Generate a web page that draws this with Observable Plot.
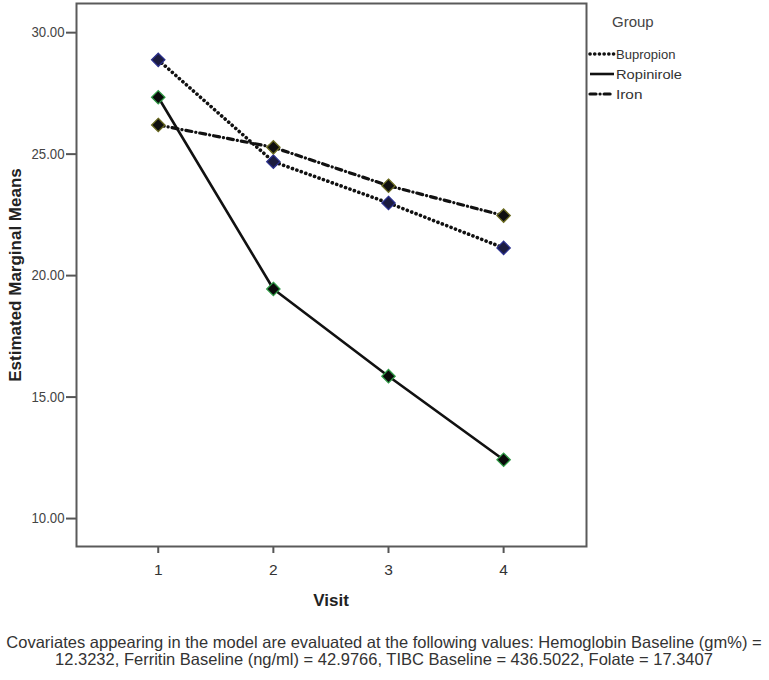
<!DOCTYPE html>
<html>
<head>
<meta charset="utf-8">
<script src="https://cdn.jsdelivr.net/npm/d3@7"></script>
<script src="https://cdn.jsdelivr.net/npm/@observablehq/plot@0.6"></script>
<style>
  body { margin: 0; background: #fff; }
  #chart svg { display: block; }
</style>
</head>
<body>
<div id="chart"></div>
<script>
const visits = [1, 2, 3, 4];
const groups = ["Bupropion", "Ropinirole", "Iron"];
const bupropion = [28.88, 24.69, 22.99, 21.14];
const ropinirole = [27.34, 19.45, 15.86, 12.42];
const iron = [26.20, 25.28, 23.70, 22.47];
const yTicks = [10, 15, 20, 25, 30];
const xTicks = [1, 2, 3, 4];
const xTitle = "Visit";
const yTitle = "Estimated Marginal Means";
const legendTitle = "Group";
const captionLines = [
  "Covariates appearing in the model are evaluated at the following values: Hemoglobin Baseline (gm%) =",
  "12.3232, Ferritin Baseline (ng/ml) = 42.9766, TIBC Baseline = 436.5022, Folate = 17.3407"
];

const seriesValues = [bupropion, ropinirole, iron];
const rows = groups.flatMap((g, i) => visits.map((v, j) => ({group: g, visit: v, value: seriesValues[i][j]})));

const styles = {
  Bupropion: {dash: "0.1,4.6", width: 3.6, cap: "round", fill: "#1c1c40", stroke: "#2a2f8c"},
  Ropinirole: {dash: null, width: 2.6, cap: "butt", fill: "#0a0a0a", stroke: "#2f9a45"},
  Iron: {dash: "6,4,0.1,4", width: 3.2, cap: "round", fill: "#101010", stroke: "#6a6a20"}
};

const squareDiamond = {
  draw(context, size) {
    const r = Math.sqrt(size) / 2;
    context.moveTo(0, -r);
    context.lineTo(r, 0);
    context.lineTo(0, r);
    context.lineTo(-r, 0);
    context.closePath();
  }
};

const font = "'Liberation Sans', Arial, sans-serif";

const lineMarks = groups.map(g => Plot.line(rows.filter(d => d.group === g), {
  x: "visit", y: "value", stroke: "#111", strokeWidth: styles[g].width,
  strokeDasharray: styles[g].dash, strokeLinecap: styles[g].cap
}));
const dotMarks = groups.map(g => Plot.dot(rows.filter(d => d.group === g), {
  x: "visit", y: "value", symbol: squareDiamond, r: 7.5,
  fill: styles[g].fill, stroke: styles[g].stroke, strokeWidth: 1.3
}));

const W = 769, H = 680;
const chart = Plot.plot({
  width: W, height: H,
  marginLeft: 76, marginRight: 183, marginTop: 3, marginBottom: 134,
  style: {fontFamily: font, fontSize: "13px", background: "#fff"},
  x: {domain: [0.29, 4.72]},
  y: {domain: [8.85, 31.2]},
  marks: [
    Plot.axisX({ticks: xTicks, tickSize: 7, tickPadding: 10, label: null, tickFormat: d => String(d), stroke: "#555", strokeWidth: 2, fill: "#333"}),
    Plot.axisY({ticks: yTicks, tickSize: 10, tickPadding: 2, label: null, tickFormat: d => d.toFixed(2), stroke: "#555", strokeWidth: 2, fill: "#444"}),
    ...lineMarks,
    ...dotMarks,
    Plot.frame({stroke: "#5a5a5a", strokeWidth: 2})
  ]
});
document.getElementById("chart").appendChild(chart);

const svg = d3.select(chart);
// condensed, taller tick labels like the original
svg.selectAll("text").each(function () {
  const isX = /^[1-4]$/.test(this.textContent.trim());
  this.style.fontSize = isX ? "15.5px" : "14.5px";
  if (!isX) {
    this.setAttribute("textLength", "33");
    this.setAttribute("lengthAdjust", "spacingAndGlyphs");
  }
});

// axis titles
svg.append("text")
  .attr("x", 331).attr("y", 606)
  .attr("text-anchor", "middle")
  .style("font-family", font)
  .style("font-weight", "bold").style("font-size", "17px").attr("fill", "#222")
  .text(xTitle);
svg.append("text")
  .attr("transform", "translate(21,275) rotate(-90)")
  .attr("text-anchor", "middle")
  .style("font-family", font)
  .style("font-weight", "bold").style("font-size", "17px").attr("fill", "#222")
  .text(yTitle);

// legend
const lg = svg.append("g").attr("text-anchor", "start");
lg.append("text").attr("x", 612).attr("y", 27)
  .style("font-family", font).style("font-size", "15px").attr("fill", "#444")
  .text(legendTitle);
groups.forEach((g, i) => {
  const y = 54 + i * 20;
  lg.append("line").attr("x1", 590).attr("x2", 614).attr("y1", y).attr("y2", y)
    .attr("stroke", "#111").attr("stroke-width", styles[g].width)
    .attr("stroke-dasharray", styles[g].dash).attr("stroke-linecap", styles[g].cap);
  lg.append("text").attr("x", 616).attr("y", y + 4.5)
    .style("font-family", font).style("font-size", "13px").attr("fill", "#333")
    .attr("textLength", g.length * 6.6).attr("lengthAdjust", "spacingAndGlyphs")
    .text(g);
});

// caption
captionLines.forEach((t, i) => {
  svg.append("text").attr("x", 384).attr("y", 648 + i * 17)
    .attr("text-anchor", "middle")
    .style("font-family", font).style("font-size", "16.5px").attr("fill", "#333")
    .text(t);
});
</script>
</body>
</html>
